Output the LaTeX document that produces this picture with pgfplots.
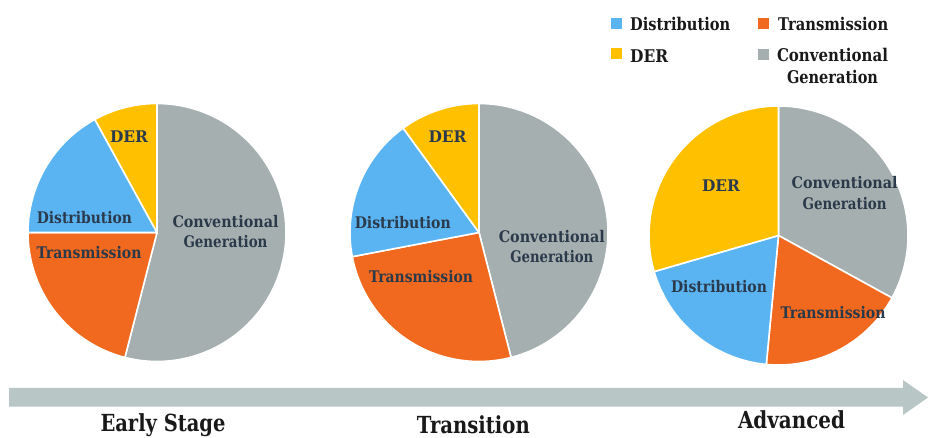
\documentclass[border=0pt]{standalone}
\usepackage{graphicx}
\usepackage{pgfplots}
\pgfplotsset{compat=1.18}
\usepackage{pgfplotstable}
\usepackage{fontspec}
\setmainfont{DejaVu Serif}

\definecolor{cDist}{HTML}{5BB4F2}
\definecolor{cTrans}{HTML}{F0691E}
\definecolor{cDER}{HTML}{FFC000}
\definecolor{cConv}{HTML}{A5AFAF}
\definecolor{cArrow}{HTML}{B8C6C6}
\definecolor{cLab}{HTML}{2B3A4B}

% share of each segment (percent) at each stage
\pgfplotstableread{
stage DER Dist Trans Conv
Early 8 17 21 54
Transition 10 18 26 46
Advanced 29.5 19 18.5 33
}\pietable

\newcommand\getpie[2]{%
  \pgfplotstablegetelem{#1}{Conv}\of\pietable \pgfmathsetmacro\pC{\pgfplotsretval}%
  \pgfplotstablegetelem{#1}{Trans}\of\pietable \pgfmathsetmacro\pT{\pgfplotsretval}%
  \pgfplotstablegetelem{#1}{Dist}\of\pietable \pgfmathsetmacro\pD{\pgfplotsretval}%
  \pgfplotstablegetelem{#1}{DER}\of\pietable \pgfmathsetmacro\pE{\pgfplotsretval}%
  \expandafter\pgfmathsetmacro\csname #2bA\endcsname{90-3.6*\pC}%
  \expandafter\pgfmathsetmacro\csname #2bB\endcsname{90-3.6*(\pC+\pT)}%
  \expandafter\pgfmathsetmacro\csname #2bC\endcsname{90-3.6*(\pC+\pT+\pD)}%
  \expandafter\pgfmathsetmacro\csname #2bD\endcsname{90-3.6*(\pC+\pT+\pD+\pE)}%
}
\getpie{0}{pa}
\getpie{1}{pb}
\getpie{2}{pc}

% cx cy r from to colour
\newcommand\pieslice[6]{%
  \addplot[draw=white, line width=1.6pt, line join=round, fill=#6,
    domain=#4:#5, samples=90, variable=\t]
    ({#1+#3*cos(\t)},{#2+#3*sin(\t)}) -- (axis cs:#1,#2) -- cycle;
}
\newcommand\wlfont{\bfseries\fontsize{16}{20.5}\selectfont}
\newcommand\legfont{\bfseries\fontsize{17.5}{21.7}\selectfont}
\newcommand\stfont{\bfseries\fontsize{23.5}{28}\selectfont}
% set text to a given width, keeping its height
\newcommand\hw[2]{\resizebox{#1pt}{\height}{#2}}

\begin{document}
\begin{tikzpicture}
\begin{axis}[name=ax,
  scale only axis, width=930pt, height=438pt,
  xmin=0, xmax=930, ymin=0, ymax=438,
  hide axis, clip=false]

% arrow
\fill[cArrow] (axis cs:9,50) -- (axis cs:903,50) -- (axis cs:903,58)
  -- (axis cs:928,40.5) -- (axis cs:903,23) -- (axis cs:903,31.3)
  -- (axis cs:9,31.3) -- cycle;

% pie 1
\pieslice{157}{205.5}{129}{\pabA}{90}{cConv}
\pieslice{157}{205.5}{129}{\pabB}{\pabA}{cTrans}
\pieslice{157}{205.5}{129}{\pabC}{\pabB}{cDist}
\pieslice{157}{205.5}{129}{\pabD}{\pabC}{cDER}
% pie 2
\pieslice{479}{205.5}{129}{\pbbA}{90}{cConv}
\pieslice{479}{205.5}{129}{\pbbB}{\pbbA}{cTrans}
\pieslice{479}{205.5}{129}{\pbbC}{\pbbB}{cDist}
\pieslice{479}{205.5}{129}{\pbbD}{\pbbC}{cDER}
% pie 3
\pieslice{778.5}{202.5}{129.5}{\pcbA}{90}{cConv}
\pieslice{778.5}{202.5}{129.5}{\pcbB}{\pcbA}{cTrans}
\pieslice{778.5}{202.5}{129.5}{\pcbC}{\pcbB}{cDist}
\pieslice{778.5}{202.5}{129.5}{\pcbD}{\pcbC}{cDER}

% wedge labels
\begin{scope}[every node/.style={text=cLab, font=\wlfont, align=center, inner sep=0pt}]
\node at (axis cs:129,301.6) {\hw{38}{DER}};
\node at (axis cs:84.4,220) {\hw{95}{Distribution}};
\node at (axis cs:89,185) {\hw{105}{Transmission}};
\node at (axis cs:225.5,206.3) {\hw{106}{Conventional}\\\hw{84}{Generation}};

\node at (axis cs:447.5,301.6) {\hw{38}{DER}};
\node at (axis cs:402.8,215.5) {\hw{96}{Distribution}};
\node at (axis cs:421,161) {\hw{104}{Transmission}};
\node at (axis cs:551.8,191.7) {\hw{106}{Conventional}\\\hw{83}{Generation}};

\node at (axis cs:721,252.2) {\hw{38}{DER}};
\node at (axis cs:844.6,244.8) {\hw{106}{Conventional}\\\hw{84}{Generation}};
\node at (axis cs:719,151.6) {\hw{96}{Distribution}};
\node at (axis cs:833,125) {\hw{105}{Transmission}};
\end{scope}

% legend
\addplot[only marks, mark=square*, mark size=5pt, color=cDist] coordinates {(615.7,414.5)};
\addplot[only marks, mark=square*, mark size=5pt, color=cTrans] coordinates {(763,414.5)};
\addplot[only marks, mark=square*, mark size=5pt, color=cDER] coordinates {(615.7,385)};
\addplot[only marks, mark=square*, mark size=5pt, color=cConv] coordinates {(763,384)};
\begin{scope}[every node/.style={text=black!90, font=\legfont, align=center, inner sep=0pt}]
\node[anchor=west] at (axis cs:630,413.7) {\hw{100}{Distribution}};
\node[anchor=west] at (axis cs:778,413.7) {\hw{110}{Transmission}};
\node[anchor=west] at (axis cs:630,381.5) {\hw{38}{DER}};
\node at (axis cs:832.5,372.2) {\hw{111}{Conventional}\\\hw{91}{Generation}};
\end{scope}

% stage labels
\node[anchor=base, font=\stfont, text=black!90, inner sep=0pt] at (axis cs:163,6.3) {\hw{125}{Early Stage}};
\node[anchor=base, font=\stfont, text=black!90, inner sep=0pt] at (axis cs:473.3,4.7) {\hw{113}{Transition}};
\node[anchor=base, font=\stfont, text=black!90, inner sep=0pt] at (axis cs:791.5,9.7) {\hw{107}{Advanced}};
\end{axis}
\pgfresetboundingbox
\path[use as bounding box] (ax.south west) rectangle (ax.north east);
\end{tikzpicture}
\end{document}
